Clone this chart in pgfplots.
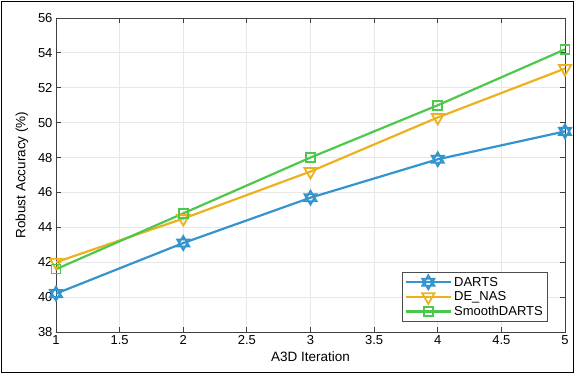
\documentclass[border=0pt]{standalone}
\usepackage{pgfplots}
\pgfplotsset{compat=1.18}
\usepackage{fontspec}
\setmainfont{Liberation Sans}
\definecolor{mblue}{RGB}{52,148,206}
\definecolor{morange}{RGB}{237,177,32}
\definecolor{mgreen}{RGB}{77,200,77}
\pgfdeclareplotmark{hexagram}{%
  \pgfpathmoveto{\pgfqpointpolar{90}{\pgfplotmarksize}}%
  \pgfpathlineto{\pgfqpointpolar{210}{\pgfplotmarksize}}%
  \pgfpathlineto{\pgfqpointpolar{330}{\pgfplotmarksize}}%
  \pgfpathclose
  \pgfpathmoveto{\pgfqpointpolar{270}{\pgfplotmarksize}}%
  \pgfpathlineto{\pgfqpointpolar{30}{\pgfplotmarksize}}%
  \pgfpathlineto{\pgfqpointpolar{150}{\pgfplotmarksize}}%
  \pgfpathclose
  \pgfusepathqstroke}
\begin{document}
\begin{tikzpicture}
\useasboundingbox (-56pt,-42pt) rectangle (519pt,332pt);
\draw[black, line width=1pt] (-54.5pt,-40.5pt) rectangle (517.5pt,330.5pt);
\begin{axis}[
  at={(0,0)}, anchor=south west,
  scale only axis,
  width=509pt, height=314pt,
  xmin=1, xmax=5, ymin=38, ymax=56,
  xtick={1,1.5,...,5}, ytick={38,40,...,56},
  grid=major,
  grid style={gray!18, line width=0.8pt},
  tick align=inside,
  axis line style={black!75, line width=0.8pt},
  tick style={black!75, line width=0.8pt},
  major tick length=5pt,
  ticklabel style={font=\fontsize{13}{14}\selectfont},
  /pgf/number format/assume math mode=true,
  xlabel={A3D Iteration},
  ylabel={Robust Accuracy (\%)},
  label style={font=\fontsize{13.5}{14}\selectfont},
  xlabel style={yshift=0pt},
  ylabel style={yshift=3pt},
  legend style={at={(0.966,0.032)}, anchor=south east, font=\fontsize{13}{14}\selectfont, draw=black!70, line width=0.8pt, row sep=0pt, inner sep=2.5pt},
  legend cell align=left,
  legend image code/.code={
    \draw[mark repeat=2,mark phase=2] plot coordinates {(0cm,0cm) (0.8cm,0cm) (1.6cm,0cm)};},
  every axis plot/.append style={line width=2.2pt},
]
\addplot[color=mblue, mark=hexagram, mark size=7pt, mark options={line width=1.8pt}] coordinates {(1,40.2) (2,43.1) (3,45.7) (4,47.9) (5,49.5)};
\addlegendentry{DARTS}
\addplot[color=morange, mark=triangle, mark size=7pt, mark options={rotate=180, line width=1.8pt}] coordinates {(1,42.0) (2,44.5) (3,47.2) (4,50.3) (5,53.1)};
\addlegendentry{DE\_NAS}
\addplot[color=mgreen, mark=square, mark size=4.5pt, mark options={line width=1.6pt}] coordinates {(1,41.6) (2,44.8) (3,48.0) (4,51.0) (5,54.2)};
\addlegendentry{SmoothDARTS}
\end{axis}
\end{tikzpicture}
\end{document}
